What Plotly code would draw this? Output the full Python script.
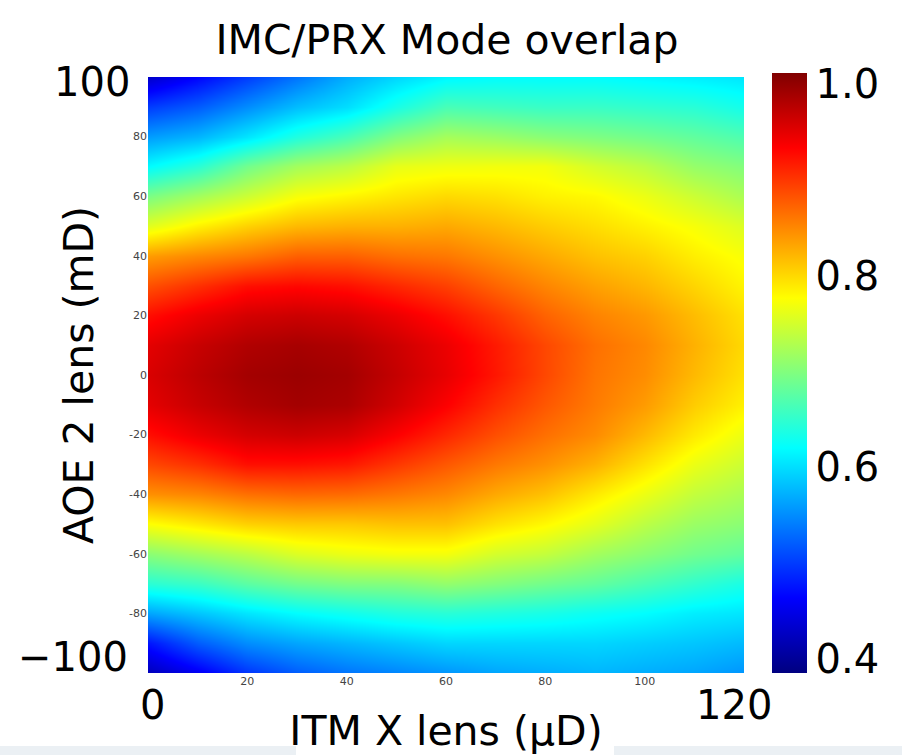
import plotly.graph_objects as go

# ---- data ----
itm_x = [0, 10, 20, 30, 40, 50, 60, 70, 80, 90, 100, 110, 120]          # ITM X lens (uD)
aoe_y = list(range(-100, 101, 10))                                       # AOE 2 lens (mD)

row_m100 = [0.42, 0.455, 0.495, 0.52, 0.535, 0.545, 0.555, 0.565, 0.57, 0.575, 0.57, 0.565, 0.555]
row_m90 = [0.475, 0.52, 0.55, 0.565, 0.575, 0.585, 0.595, 0.595, 0.595, 0.595, 0.59, 0.585, 0.578]
row_m80 = [0.565, 0.585, 0.605, 0.62, 0.63, 0.64, 0.645, 0.64, 0.635, 0.627, 0.62, 0.61, 0.605]
row_m70 = [0.645, 0.655, 0.675, 0.69, 0.698, 0.70, 0.71, 0.70, 0.69, 0.68, 0.665, 0.65, 0.635]
row_m60 = [0.705, 0.72, 0.735, 0.755, 0.765, 0.77, 0.77, 0.75, 0.74, 0.72, 0.705, 0.69, 0.68]
row_m50 = [0.775, 0.79, 0.805, 0.81, 0.81, 0.815, 0.815, 0.795, 0.78, 0.76, 0.735, 0.715, 0.705]
row_m40 = [0.845, 0.852, 0.865, 0.87, 0.868, 0.86, 0.85, 0.83, 0.815, 0.79, 0.765, 0.74, 0.725]
row_m30 = [0.89, 0.905, 0.925, 0.925, 0.92, 0.90, 0.88, 0.86, 0.845, 0.825, 0.795, 0.765, 0.745]
row_m20 = [0.925, 0.945, 0.96, 0.965, 0.958, 0.935, 0.91, 0.885, 0.865, 0.848, 0.82, 0.79, 0.765]
row_m10 = [0.95, 0.968, 0.982, 0.99, 0.985, 0.962, 0.935, 0.905, 0.88, 0.858, 0.838, 0.808, 0.785]
row_0 = [0.957, 0.975, 0.99, 0.995, 0.99, 0.97, 0.948, 0.92, 0.89, 0.862, 0.847, 0.82, 0.795]
row_p10 = [0.95, 0.968, 0.982, 0.988, 0.982, 0.965, 0.945, 0.918, 0.89, 0.865, 0.85, 0.825, 0.80]
row_p20 = [0.925, 0.945, 0.96, 0.965, 0.96, 0.945, 0.925, 0.90, 0.873, 0.853, 0.84, 0.818, 0.795]
row_p30 = [0.885, 0.905, 0.925, 0.93, 0.925, 0.91, 0.895, 0.872, 0.852, 0.835, 0.822, 0.803, 0.783]
row_p40 = [0.838, 0.85, 0.86, 0.875, 0.875, 0.865, 0.86, 0.845, 0.83, 0.815, 0.805, 0.787, 0.773]
row_p50 = [0.758, 0.785, 0.805, 0.82, 0.825, 0.825, 0.83, 0.82, 0.808, 0.797, 0.785, 0.772, 0.755]
row_p60 = [0.695, 0.72, 0.745, 0.772, 0.782, 0.792, 0.80, 0.795, 0.785, 0.78, 0.765, 0.745, 0.725]
row_p70 = [0.618, 0.645, 0.69, 0.72, 0.735, 0.762, 0.767, 0.769, 0.769, 0.75, 0.735, 0.712, 0.70]
row_p80 = [0.56, 0.575, 0.605, 0.64, 0.665, 0.70, 0.722, 0.715, 0.705, 0.698, 0.69, 0.68, 0.668]
row_p90 = [0.50, 0.52, 0.55, 0.58, 0.60, 0.635, 0.665, 0.66, 0.655, 0.655, 0.65, 0.645, 0.632]
row_p100 = [0.43, 0.465, 0.50, 0.535, 0.57, 0.595, 0.615, 0.62, 0.62, 0.62, 0.615, 0.61, 0.605]

overlap = [row_m100, row_m90, row_m80, row_m70, row_m60, row_m50, row_m40, row_m30,
           row_m20, row_m10, row_0, row_p10, row_p20, row_p30, row_p40, row_p50,
           row_p60, row_p70, row_p80, row_p90, row_p100]

x_minor_ticks = [20, 40, 60, 80, 100]
y_minor_ticks = [-80, -60, -40, -20, 0, 20, 40, 60, 80]
cbar_ticks = [0.4, 0.6, 0.8, 1.0]

# ---- style ----
FONT = "DejaVu Sans"
jet = [[0.0, "rgb(0,0,128)"], [0.125, "rgb(0,0,255)"], [0.375, "rgb(0,255,255)"],
       [0.625, "rgb(255,255,0)"], [0.875, "rgb(255,0,0)"], [1.0, "rgb(128,0,0)"]]

W, H = 902, 755
L, R, T, B = 148, 158, 77, 82
pw, ph = W - L - R, H - T - B


def px_x(px):
    return (px - L) / pw


def px_y(py):
    return (H - B - py) / ph


fig = go.Figure(go.Heatmap(
    x=itm_x, y=aoe_y, z=overlap, zsmooth="best", colorscale=jet,
    zmin=0.385, zmax=1.012,
    colorbar=dict(
        tickvals=cbar_ticks, ticktext=[f"{v:.1f}" for v in cbar_ticks],
        tickfont=dict(family=FONT, size=40, color="black"),
        thickness=35, lenmode="pixels", len=600, xpad=0, ypad=0,
        x=px_x(772), xanchor="left", y=px_y(373), yanchor="middle",
        outlinewidth=0, ticks="outside", ticklen=1, tickcolor="rgba(0,0,0,0)",
    ),
))

annotations = [
    dict(text="100", x=px_x(132), y=px_y(82), xanchor="right", yanchor="middle"),
    dict(text="\u2212100", x=px_x(130), y=px_y(657), xanchor="right", yanchor="middle"),
    dict(text="0", x=px_x(152), y=px_y(705), xanchor="center", yanchor="middle"),
    dict(text="120", x=px_x(734), y=px_y(705), xanchor="center", yanchor="middle"),
]
for a in annotations:
    a.update(xref="paper", yref="paper", showarrow=False,
             font=dict(family=FONT, size=40, color="black"))

shapes = [
    dict(type="rect", xref="paper", yref="paper", x0=px_x(0), x1=px_x(296),
         y0=px_y(755), y1=px_y(746), fillcolor="#ebf0f4", line=dict(width=0), layer="below"),
    dict(type="rect", xref="paper", yref="paper", x0=px_x(614), x1=px_x(902),
         y0=px_y(755), y1=px_y(746), fillcolor="#ebf0f4", line=dict(width=0), layer="below"),
]

fig.update_layout(
    width=W, height=H,
    margin=dict(l=L, r=R, t=T, b=B, autoexpand=False),
    paper_bgcolor="white", plot_bgcolor="white",
    title=dict(text="IMC/PRX Mode overlap", x=px_x(447), xref="paper", xanchor="center",
               y=1 - 40 / H, yanchor="middle",
               font=dict(family=FONT, size=41, color="black")),
    xaxis=dict(range=[0, 120], tickvals=x_minor_ticks, ticktext=[str(v) for v in x_minor_ticks],
               tickfont=dict(family=FONT, size=11, color="#444"), automargin=False,
               showgrid=False, zeroline=False, showline=False, ticks="",
               title=dict(text="ITM X lens (\u03bcD)", standoff=31,
                          font=dict(family=FONT, size=41, color="black"))),
    yaxis=dict(range=[-100, 100], tickvals=y_minor_ticks, ticktext=[str(v) for v in y_minor_ticks],
               tickfont=dict(family=FONT, size=11, color="#444"), automargin=False,
               showgrid=False, zeroline=False, showline=False, ticks="",
               title=dict(text="AOE 2 lens (mD)", standoff=22,
                          font=dict(family=FONT, size=41, color="black"))),
    annotations=annotations,
    shapes=shapes,
)

fig.write_html("out.html", config={"displayModeBar": False},
               post_script="document.body.style.margin='0px';document.body.style.overflow='hidden';")
